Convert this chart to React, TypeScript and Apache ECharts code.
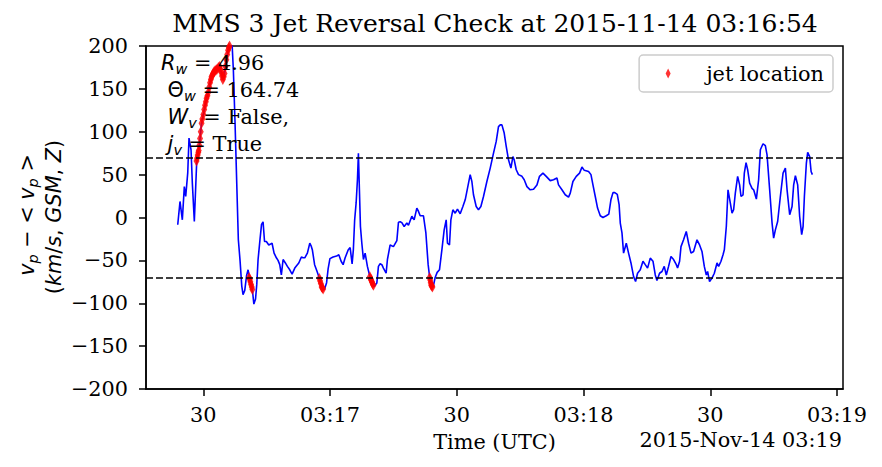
import React, { useEffect, useRef } from "react";
import * as echarts from "echarts";

// ---- data (time in seconds after 2015-11-14 03:16:00 UTC) ----
const TITLE = "MMS 3 Jet Reversal Check at 2015-11-14 03:16:54";

const timeSec = [
  23.94, 24.48, 25.03, 25.5, 25.83, 26.31, 26.61, 27.09, 27.4, 27.87, 28.44, 28.67, 28.91, 29.22, 29.58, 30.0,
  30.4, 30.76, 31.19, 31.59, 31.94, 32.3, 32.77, 33.24, 33.84, 34.26, 34.62, 35.02, 35.45, 35.85, 36.21, 36.68,
  37.11, 37.51, 37.91, 38.29, 38.69, 39.1, 39.4, 39.81, 40.23, 40.59, 40.99, 41.37, 41.65, 41.96, 42.36, 42.65,
  42.96, 43.43, 43.78, 44.14, 44.49, 44.92, 45.49, 45.92, 46.27, 46.75, 47.29, 47.69, 48.09, 48.47, 48.88, 49.42,
  49.9, 50.46, 51.01, 51.65, 52.12, 52.6, 53.21, 53.61, 54.02, 54.63, 55.2, 55.51, 55.82, 56.34, 56.93, 57.48,
  58.0, 58.64, 59.18, 59.54, 59.97, 60.72, 61.55, 62.07, 62.62, 63.09, 63.57, 64.28, 64.75, 65.22, 65.51, 65.82,
  66.17, 66.48, 66.71, 66.95, 67.19, 67.52, 67.9, 68.3, 68.84, 69.48, 69.89, 70.43, 71.07, 71.45, 71.85, 72.26,
  72.63, 73.27, 73.58, 74.22, 75.0, 75.81, 76.19, 76.59, 76.99, 77.54, 78.18, 78.56, 79.36, 79.9, 80.54, 80.85,
  81.33, 82.11, 82.68, 83.22, 83.58, 83.93, 84.41, 84.88, 85.35, 85.9, 86.47, 87.01, 87.49, 87.79, 88.27, 88.6,
  89.07, 89.62, 90.16, 90.8, 91.44, 91.99, 92.53, 93.17, 93.57, 93.95, 94.59, 95.13, 95.7, 96.32, 97.12, 97.91,
  98.69, 99.33, 99.87, 100.28, 100.68, 101.22, 101.7, 102.24, 102.81, 103.28, 103.59, 104.07, 104.61, 105.42, 105.96, 106.6,
  107.38, 108.16, 108.97, 109.58, 110.39, 111.17, 112.12, 112.9, 113.7, 114.08, 114.89, 115.67, 116.45, 116.86, 117.49, 118.28,
  119.06, 119.63, 120.17, 121.19, 121.76, 122.23, 122.78, 123.32, 123.96, 124.6, 125.38, 125.98, 126.5, 126.97, 127.4, 127.99,
  128.42, 128.7, 129.1, 129.48, 130.12, 130.66, 131.23, 131.85, 132.32, 132.79, 133.43, 134.07, 134.61, 135.16, 135.8, 136.44,
  136.98, 137.38, 138.0, 138.57, 139.11, 139.59, 140.13, 140.7, 141.32, 141.96, 142.26, 142.74, 143.07, 143.68, 144.32, 144.87,
  145.44, 146.05, 146.86, 147.47, 148.04, 148.59, 149.06, 149.37, 149.84, 150.41, 150.96, 151.6, 151.98, 152.54, 153.02, 153.33,
  153.8, 154.2, 154.75, 155.15, 155.53, 155.93, 156.48, 156.95, 157.28, 157.76, 158.06, 158.47, 158.85, 159.32, 159.89, 160.27,
  160.91, 161.45, 161.86, 162.49, 163.04, 163.44, 164.06, 164.63, 165.0, 165.41, 165.95, 166.59, 167.23, 167.78, 168.18, 168.8,
  169.36, 169.74, 170.15, 170.69, 171.16, 171.64, 171.97, 172.28, 172.75, 173.06, 173.53, 173.87, 174.17,
];

const vpResidual = [
  -8.5, 18.7, -2.7, 36, 24.5, 52, 92.6, 79, 40, -4.7, 66, 73, 78, 92, 110, 120,
  131, 139, 146, 157, 164, 168, 171, 173, 176, 169, 161, 168, 184, 195, 200, 215,
  172, 110, 40, -26, -50, -80, -90, -85, -68, -61, -72, -79, -86, -101, -95, -78,
  -49, -25, -8, -5, -28, -28, -32, -31, -30, -41.5, -47, -50, -55, -67, -49, -53,
  -57, -61, -66, -59, -56, -53, -46, -47, -47, -41.5, -30, -33, -38, -55, -63, -71,
  -81, -84.4, -76, -60, -48, -46, -45, -43.5, -51, -55, -47, -38, -35, -54, -38, -3,
  17, 44, 75, 32, -10.5, -30, -49, -41.5, -57, -70, -75, -80.5, -76.5, -57, -54, -55,
  -59, -65, -49, -32, -34, -27, -5.5, -5, -6, -10.5, -6.5, -9, 1.5, -2.7, 11, 8,
  2, 2, -18, -55, -70, -79, -81, -70, -64, -61, -37.7, -14.4, -2.7, -30, -32, -2.7,
  9, 5, 9.7, 4.3, 12.8, 20.6, 34, 50, 42, 26.5, 12.8, 9, 12.8, 24.5, 42, 57.6,
  75, 88.7, 106, 108, 108, 98.5, 83, 67.3, 57.6, 71, 67.3, 55.7, 50, 48, 44, 36,
  32.3, 33, 38, 48, 51.8, 48, 43, 44, 46, 38, 32.3, 26.5, 23.8, 28.5, 42, 48,
  51.8, 58.8, 55, 53.7, 50, 38, 24.5, 11, 2, 0, 2, 4, 21, 29, 29, 27,
  15, -6.5, -18, -41.5, -30, -41.5, -53, -69, -74.7, -65, -61, -51, -55, -59, -47.4, -51,
  -67, -73.5, -65, -63, -57, -67, -57, -45.5, -49, -55, -59, -51, -34, -26, -16.3, -30,
  -41.5, -39.6, -26, -32, -39.6, -57, -67, -63, -74.7, -70.7, -65, -53, -57, -51, -43.5, -37.7,
  -10.5, 32.3, 16.8, 5, 9, 28.5, 48, 38, 24.5, 26.5, 51.8, 64, 55.7, 40, 34, 32.3,
  21.5, 44, 79, 86, 83.7, 73, 32.3, -6.5, -24, -14.4, -4.7, 24.5, 51.8, 57.6, 32.3, 3.2,
  12.8, 38, 48.7, 38, 1.2, -20, -10.5, 24.5, 63.5, 76, 71, 53.7, 50,
];

const jetTimeSec = [
  28.39, 28.51, 28.67, 28.82, 28.91, 29.05, 29.22, 29.39, 29.58, 29.76, 30.0, 30.21, 30.4, 30.59, 30.76, 30.97,
  31.19, 31.4, 31.59, 31.78, 31.94, 32.13, 32.3, 32.54, 32.77, 33.01, 33.24, 33.55, 33.84, 34.05, 34.26, 34.43,
  34.62, 34.83, 35.02, 35.24, 35.45, 35.66, 35.85, 36.04, 36.21, 36.4,
  40.83, 40.99, 41.13, 41.3, 41.46, 41.6,
  57.48, 57.65, 57.81, 58.0, 58.19, 58.36,
  69.43, 69.6, 69.77, 69.94, 70.1, 70.27,
  83.58, 83.7, 83.82, 83.93, 84.1, 84.24,
];

const jetVp = [
  66, 69, 73, 76, 78, 84, 92, 100, 110, 115, 120, 126, 131, 135, 139, 142,
  146, 152, 157, 161, 164, 166, 168, 170, 171, 172, 173, 175, 176, 173, 169, 165,
  161, 164, 168, 176, 184, 190, 195, 198, 200, 203,
  -70, -72, -75, -78, -81, -84,
  -71, -74, -77, -81, -82, -83.5,
  -69, -71.5, -73.5, -75.5, -77.5, -79,
  -70, -73, -76, -79, -80, -81,
];

const thresholds = [70, -70];
const xTickSec = [30, 60, 90, 120, 150, 180];
const xMin = 16.43;
const xMax = 181.42;
const yMin = -200;
const yMax = 200;
const yStep = 50;

// symbol styles: "m" = italic math letter, "g" = upright Greek capital
const annotationLines = [
  { sym: "R", symStyle: "m", sub: "w", rest: " = 4.96", lead: "" },
  { sym: "\u0398", symStyle: "g", sub: "w", rest: " = 164.74", lead: " " },
  { sym: "W", symStyle: "m", sub: "v", rest: " = False,", lead: " " },
  { sym: "j", symStyle: "m", sub: "v", rest: " = True", lead: " " },
];

const SERIF = "DejaVu Serif";
const SANS = "DejaVu Sans";
const FS = 20.8;

// legend handle: thin diamond centred in a 53x10 handle box (degenerate segments fix the box)
const LEGEND_ICON = "path://M0 5L0.01 5M53 5L52.99 5M20 0L22.5 5L20 10L17.5 5Z";

function fmtX(v: number): string {
  const s = Math.round(v);
  if (s % 60 === 30) return "30";
  const min = 16 + Math.floor(s / 60);
  return "03:" + String(min).padStart(2, "0");
}

export default function App() {
  const ref = useRef<HTMLDivElement>(null);
  useEffect(() => {
    if (!ref.current) return;
    const chart = echarts.init(ref.current, undefined, { renderer: "svg" });

    const lineData = timeSec.map((t, i) => [t, vpResidual[i]]);
    const jetData = jetTimeSec.map((t, i) => [t, jetVp[i]]);

    const rich = {
      m: { fontFamily: SANS, fontStyle: "italic", fontSize: FS, fill: "#000", lineHeight: 26 },
      g: { fontFamily: SANS, fontSize: FS, fill: "#000", lineHeight: 26 },
      s: { fontFamily: SANS, fontStyle: "italic", fontSize: 14.5, fill: "#000", lineHeight: 26, verticalAlign: "bottom" },
      t: { fontFamily: SERIF, fontSize: FS, fill: "#000", lineHeight: 26 },
      u: { fontFamily: SANS, fontSize: FS, fill: "#000", lineHeight: 26 },
    };

    const annoY = [63, 90, 117, 144];
    const annoGraphics = annotationLines.map((a, i) => ({
      type: "text",
      x: 161,
      y: annoY[i],
      z: 100,
      style: {
        text:
          (a.lead ? "{t|" + a.lead + "}" : "") +
          "{" + a.symStyle + "|" + a.sym + "}{s|" + a.sub + "}{t|" + a.rest + "}",
        rich,
        align: "left",
        verticalAlign: "middle",
      },
    }));

    const legendText = {
      fontFamily: SERIF,
      fontSize: FS,
      color: "#000",
      rich: { lg: { fontFamily: SERIF, fontSize: FS, color: "#000" } },
    };

    const option: any = {
      animation: false,
      backgroundColor: "#ffffff",
      textStyle: { fontFamily: SERIF },
      title: {
        text: TITLE,
        left: 495,
        top: 11,
        padding: 0,
        textAlign: "center",
        textStyle: { fontFamily: SERIF, fontSize: 25, fontWeight: "normal", color: "#000" },
      },
      grid: {
        left: 146,
        right: 39,
        top: 46,
        bottom: 78,
        show: true,
        borderColor: "#000",
        borderWidth: 1.5,
        backgroundColor: "transparent",
      },
      legend: {
        data: [{ name: "jet location", icon: LEGEND_ICON }],
        formatter: (name: string) => "{lg|" + name + "}",
        right: 49,
        top: 55,
        orient: "horizontal",
        padding: [8, 9, 8, 9],
        backgroundColor: "#fff",
        borderColor: "#cccccc",
        borderWidth: 1.5,
        borderRadius: 4,
        itemWidth: 53,
        itemHeight: 10,
        textStyle: legendText,
      },
      xAxis: {
        type: "value",
        min: xMin,
        max: xMax,
        name: "Time (UTC)",
        nameLocation: "middle",
        nameGap: 42,
        nameTextStyle: { fontFamily: SERIF, fontSize: FS, color: "#000" },
        axisLine: { show: true, onZero: false, lineStyle: { color: "#000", width: 1.5 } },
        axisTick: { show: true, length: 7, customValues: xTickSec, lineStyle: { color: "#000", width: 1.5 } },
        axisLabel: {
          customValues: xTickSec,
          formatter: (v: number) => fmtX(v),
          margin: 15,
          fontFamily: SERIF,
          fontSize: FS,
          color: "#000",
        },
        splitLine: { show: false },
      },
      yAxis: {
        type: "value",
        min: yMin,
        max: yMax,
        interval: yStep,
        axisLine: { show: true, onZero: false, lineStyle: { color: "#000", width: 1.5 } },
        axisTick: { show: true, length: 7, lineStyle: { color: "#000", width: 1.5 } },
        axisLabel: {
          formatter: (v: number) => String(v).replace("-", "\u2212"),
          margin: 18,
          fontFamily: SERIF,
          fontSize: FS,
          color: "#000",
        },
        splitLine: { show: false },
      },
      series: [
        {
          type: "line",
          name: "vp",
          data: lineData,
          showSymbol: false,
          symbol: "none",
          lineStyle: { color: "#0000ff", width: 1.6 },
          itemStyle: { color: "#0000ff" },
          z: 2,
          markLine: {
            silent: true,
            symbol: ["none", "none"],
            label: { show: false },
            lineStyle: { color: "#000", type: [7, 3], width: 1.6 },
            data: thresholds.map((y) => ({ yAxis: y })),
          },
        },
        {
          type: "scatter",
          name: "jet location",
          data: jetData,
          symbol: "diamond",
          symbolSize: [6, 11],
          itemStyle: { color: "#ff0000" },
          z: 3,
        },
      ],
      graphic: [
        ...annoGraphics,
        {
          type: "text",
          x: 27,
          y: 215,
          rotation: Math.PI / 2,
          z: 100,
          style: {
            text: "{m|v}{s|p}{u| \u2212 < }{m|v}{s|p}{u| >}",
            rich,
            align: "center",
            verticalAlign: "middle",
          },
        },
        {
          type: "text",
          x: 54,
          y: 217,
          rotation: Math.PI / 2,
          z: 100,
          style: {
            text: "{u|(}{m|km}{u|/}{m|s}{u|, }{m|GSM}{u|, }{m|Z}{u|)}",
            rich,
            align: "center",
            verticalAlign: "middle",
          },
        },
        {
          type: "text",
          x: 842,
          y: 440,
          z: 100,
          style: {
            text: "2015-Nov-14 03:19",
            fontFamily: SERIF,
            fontSize: FS,
            fill: "#000",
            align: "right",
            verticalAlign: "middle",
          },
        },
      ],
    };

    chart.setOption(option);
    return () => {
      chart.dispose();
    };
  }, []);

  return (
    <div
      ref={ref}
      style={{ position: "absolute", left: 0, top: 0, width: 882, height: 467, background: "#fff" }}
    />
  );
}
